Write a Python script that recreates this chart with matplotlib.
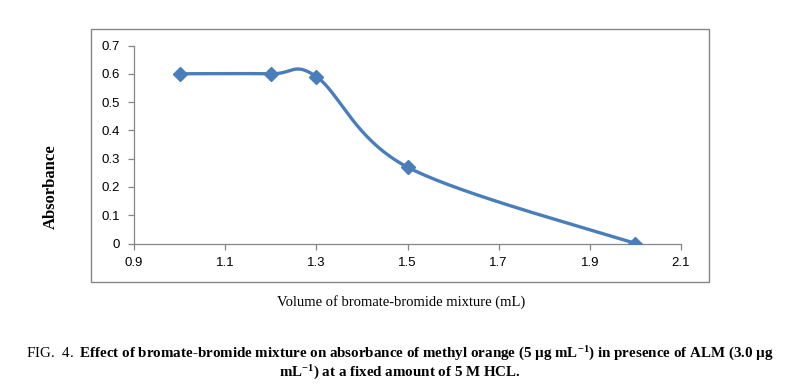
import numpy as np
import matplotlib
matplotlib.use("Agg")
import matplotlib.pyplot as plt
from matplotlib.patches import Rectangle

# data
volume = [1.0, 1.2, 1.3, 1.5, 2.0]
absorbance = [0.60, 0.60, 0.59, 0.27, 0.0]
x_ticks = [0.9, 1.1, 1.3, 1.5, 1.7, 1.9, 2.1]
y_ticks = [0, 0.1, 0.2, 0.3, 0.4, 0.5, 0.6, 0.7]

BLUE = "#4A7EBB"
GREY = "#868686"

plt.rcParams["mathtext.fontset"] = "custom"
plt.rcParams["mathtext.rm"] = "Liberation Serif"
plt.rcParams["mathtext.bf"] = "Liberation Serif:bold"
plt.rcParams["mathtext.default"] = "bf"


def smooth_curve(ax, xs, ys, n=60):
    # Excel-style smoothed line: cubic Bezier (Catmull-Rom) in screen space
    x0, x1 = ax.get_xlim()
    y0, y1 = ax.get_ylim()
    bb = ax.get_position()
    sx = bb.width / (x1 - x0)
    sy = bb.height / (y1 - y0)
    p = np.column_stack([(np.array(xs) - x0) * sx, (np.array(ys) - y0) * sy])
    pts = np.vstack([p[0], p, p[-1]])
    out = []
    t = np.linspace(0, 1, n)[:, None]
    for i in range(1, len(pts) - 2):
        a, b = pts[i], pts[i + 1]
        c1 = a + (pts[i + 1] - pts[i - 1]) / 6
        c2 = b - (pts[i + 2] - pts[i]) / 6
        seg = ((1 - t) ** 3) * a + 3 * ((1 - t) ** 2) * t * c1 + 3 * (1 - t) * t ** 2 * c2 + t ** 3 * b
        out.append(seg)
    out = np.vstack(out)
    return out[:, 0] / sx + x0, out[:, 1] / sy + y0


fig = plt.figure(figsize=(7.89, 3.89), dpi=100)
ax = fig.add_axes([134 / 789, 1 - 243.5 / 389, (681 - 134) / 789, (243.5 - 45.5) / 389])

ax.set_xlim(0.9, 2.1)
ax.set_ylim(0, 0.7)

cx, cy = smooth_curve(ax, volume, absorbance)
ax.plot(cx, cy, color=BLUE, lw=2.4, solid_capstyle="round", zorder=2)
ax.plot(volume, absorbance, linestyle="none", marker="D", ms=7, color=BLUE, zorder=3)

ax.set_xticks(x_ticks)
ax.set_xticklabels([f"{v:.1f}" for v in x_ticks])
ax.set_yticks(y_ticks)
ax.set_yticklabels(["0"] + [f"{v:.1f}" for v in y_ticks[1:]])

for s in ["top", "right"]:
    ax.spines[s].set_visible(False)
for s in ["left", "bottom"]:
    ax.spines[s].set_color(GREY)
    ax.spines[s].set_linewidth(0.9)
ax.tick_params(direction="out", length=4, width=0.9, color=GREY, labelsize=9.5, pad=6)
for lab in ax.get_xticklabels() + ax.get_yticklabels():
    lab.set_fontfamily("Liberation Sans")

# chart border
fig.patches.append(Rectangle((91 / 789, 1 - 282 / 389), (709 - 91) / 789, (282 - 29) / 389,
                             transform=fig.transFigure, fill=False, edgecolor=GREY, lw=1.0))

fig.text(401 / 789, 1 - 302 / 389, "Volume of bromate-bromide mixture (mL)",
         family="Liberation Serif", fontsize=10.5, ha="center", va="center")
fig.text(51 / 789, 1 - 187 / 389, "Absorbance", family="Liberation Serif", fontweight="bold",
         fontsize=12, rotation=90, ha="center", va="center")

fig.text(400 / 789, 1 - 354 / 389,
         r"$\mathrm{FIG.\ 4.}$ Effect of bromate-bromide mixture on absorbance of methyl orange (5 µg mL$^{-1}$) in presence of ALM (3.0 µg",
         family="Liberation Serif", fontweight="bold", fontsize=10.8, ha="center", va="center")
fig.text(400 / 789, 1 - 373 / 389, r"mL$^{-1}$) at a fixed amount of 5 M HCL.",
         family="Liberation Serif", fontweight="bold", fontsize=10.8, ha="center", va="center")

fig.savefig("out.png", dpi=100)
